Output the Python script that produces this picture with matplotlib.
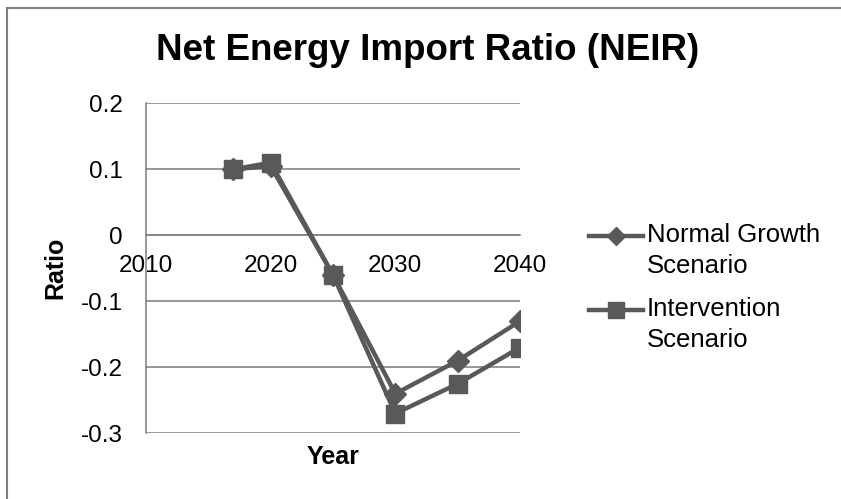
import numpy as np
import matplotlib.pyplot as plt
from matplotlib.lines import Line2D
from matplotlib.patches import Rectangle

plt.rcParams['font.family'] = ['Liberation Sans', 'DejaVu Sans']

years = [2017, 2020, 2025, 2030, 2035, 2040]
normal_growth = [0.10, 0.105, -0.06, -0.24, -0.19, -0.13]
intervention = [0.10, 0.11, -0.06, -0.27, -0.225, -0.17]
series_names = ["Normal Growth\nScenario", "Intervention\nScenario"]
xticks = [2010, 2020, 2030, 2040]
yticks = [-0.3, -0.2, -0.1, 0, 0.1, 0.2]
ytick_labels = ["-0.3", "-0.2", "-0.1", "0", "0.1", "0.2"]

line_col = '#595959'
grid_col = '#868686'

fig = plt.figure(figsize=(8.41, 4.99), dpi=100)
ax = fig.add_axes([146/841, 1 - 433.3/499, 374/841, 330/499])

ax.plot(years, normal_growth, color=line_col, lw=3.2, marker='D', ms=11,
        zorder=3)
ax.plot(years, intervention, color=line_col, lw=3.2, marker='s', ms=13,
        zorder=4)

ax.set_xlim(2010, 2040)
ax.set_ylim(-0.3, 0.2)
ax.set_yticks(yticks)
ax.set_yticklabels(ytick_labels)
ax.set_xticks(xticks)
ax.grid(axis='y', color=grid_col, lw=1.2)
ax.set_axisbelow(True)

# category axis crosses at zero, like the spreadsheet default
for s in ['top', 'right']:
    ax.spines[s].set_visible(False)
ax.spines['bottom'].set_position(('data', 0))
ax.spines['bottom'].set_color(grid_col)
ax.spines['bottom'].set_linewidth(1.2)
ax.spines['left'].set_color(grid_col)
ax.spines['left'].set_linewidth(1.2)
ax.tick_params(axis='x', length=0, pad=14, labelsize=17.5)
ax.tick_params(axis='y', length=0, pad=17, labelsize=17.5)

ax.set_xlabel("Year", fontsize=18, fontweight='bold')
ax.xaxis.set_label_coords(0.5, -0.035)
fig.text(55/841, 1 - 268/499, "Ratio", rotation=90, ha='center', va='center',
         fontsize=18, fontweight='bold')

fig.text(428/841, 1 - 51/499, "Net Energy Import Ratio (NEIR)", ha='center',
         va='center', fontsize=26.5, fontweight='bold')

# legend on the right, handle level with the first text line
markers = ['D', 's']
msizes = [9, 11]
for i, name in enumerate(series_names):
    yy = 1 - (236 + 74*i)/499
    fig.add_artist(Line2D([589/841, 643/841], [yy, yy], color=line_col,
                          lw=3.2, transform=fig.transFigure))
    fig.add_artist(Line2D([616/841], [yy], color=line_col, marker=markers[i],
                          ms=msizes[i], transform=fig.transFigure))
    fig.text(647/841, yy + 13/499, name, ha='left', va='top', fontsize=18.5,
             linespacing=1.38)

fig.add_artist(Rectangle((7/841, -0.05), 1.1, 1 - 8/499 + 0.05, fill=False,
                         edgecolor='#808080', lw=1.5, transform=fig.transFigure))

fig.savefig('out.png', dpi=100)
